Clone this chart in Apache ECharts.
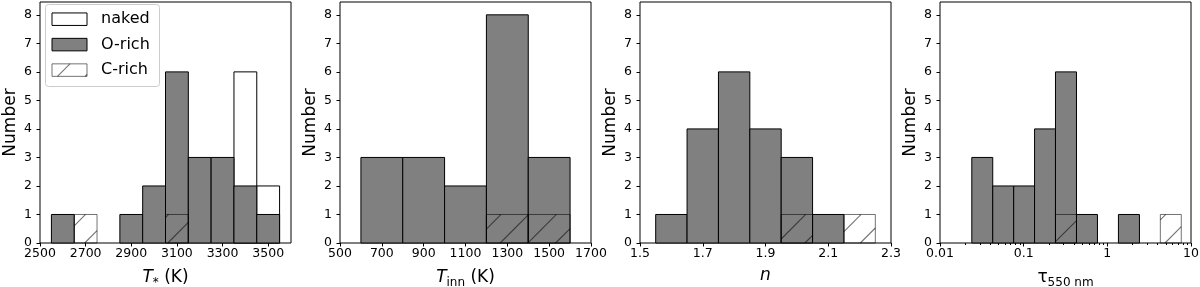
<!DOCTYPE html>
<html><head><meta charset="utf-8">
<script src="https://cdn.jsdelivr.net/npm/echarts@6/dist/echarts.min.js"></script>
<style>html,body{margin:0;padding:0;background:#fff}#c{width:1200px;height:287px}</style>
</head><body><div id="c"></div>
<script>
// ---- data ----
var countTicks = [0, 1, 2, 3, 4, 5, 6, 7, 8];

var tstarEdges = [2550, 2650, 2750, 2850, 2950, 3050, 3150, 3250, 3350, 3450, 3550];
var tstarNaked = [0, 0, 0, 0, 0, 0, 0, 0, 6, 2];
var tstarORich = [1, 0, 0, 1, 2, 6, 3, 3, 2, 1];
var tstarCRich = [0, 1, 0, 0, 0, 1, 0, 0, 0, 0];
var tstarTicks = [2500, 2700, 2900, 3100, 3300, 3500];

var tinnEdges = [600, 800, 1000, 1200, 1400, 1600];
var tinnORich = [3, 3, 2, 8, 3];
var tinnCRich = [0, 0, 0, 1, 1];
var tinnTicks = [500, 700, 900, 1100, 1300, 1500, 1700];

var nEdges = [1.55, 1.65, 1.75, 1.85, 1.95, 2.05, 2.15, 2.25];
var nORich = [1, 4, 6, 4, 3, 1, 0];
var nCRich = [0, 0, 0, 0, 1, 0, 1];
var nTicks = [1.5, 1.7, 1.9, 2.1, 2.3];

var tauEdges = [0.024, 0.0427, 0.076, 0.135, 0.24, 0.428, 0.762, 1.357, 2.42, 4.3, 7.65];
var tauORich = [3, 2, 2, 4, 6, 1, 0, 1, 0, 0];
var tauCRich = [0, 0, 0, 0, 1, 0, 0, 0, 0, 1];
var tauMinorTicks = [0.02, 0.03, 0.04, 0.05, 0.06, 0.07, 0.08, 0.09,
                     0.2, 0.3, 0.4, 0.5, 0.6, 0.7, 0.8, 0.9,
                     2, 3, 4, 5, 6, 7, 8, 9];

var legendNames = ['naked', 'O-rich', 'C-rich'];

// ---- helpers ----
function bins(edges, counts) {
  var out = [];
  for (var i = 0; i < counts.length; i++) {
    if (counts[i] > 0) out.push([edges[i], edges[i + 1], counts[i]]);
  }
  return out;
}

var HATCH_P = 27.7, HATCH_C0 = 23;
var GRAY = '#808080';
var CR_EDGE = 'rgba(0,0,0,0.55)';
function hatchSegments(x0, y0, x1, y1) {
  var segs = [];
  var k0 = Math.ceil((x0 + y0 - HATCH_C0) / HATCH_P);
  var k1 = Math.floor((x1 + y1 - HATCH_C0) / HATCH_P);
  for (var k = k0; k <= k1; k++) {
    var c = HATCH_C0 + k * HATCH_P;
    var ya = Math.max(y0, c - x1), yb = Math.min(y1, c - x0);
    if (yb > ya) segs.push([c - ya, ya, c - yb, yb]);
  }
  return segs;
}

function makeRender(kind) {
  return function (params, api) {
    var p0 = api.coord([api.value(0), 0]);
    var p1 = api.coord([api.value(1), api.value(2)]);
    var x = Math.min(p0[0], p1[0]), w = Math.abs(p1[0] - p0[0]);
    var y = p1[1], h = p0[1] - p1[1];
    var children = [];
    if (kind === 'c') {
      var segs = hatchSegments(x, y, x + w, y + h);
      segs.forEach(function (s) {
        children.push({ type: 'line', shape: { x1: s[0], y1: s[1], x2: s[2], y2: s[3] },
          style: { stroke: CR_EDGE, lineWidth: 1.1 } });
      });
      children.push({ type: 'rect', shape: { x: x, y: y, width: w, height: h },
        style: { fill: 'none', stroke: CR_EDGE, lineWidth: 1 } });
    } else {
      children.push({ type: 'rect', shape: { x: x, y: y, width: w, height: h },
        style: { fill: kind === 'n' ? '#ffffff' : GRAY, stroke: '#000', lineWidth: 1 } });
    }
    return { type: 'group', children: children };
  };
}

var FONT = 'DejaVu Sans';
var gridLefts = [40, 340, 640, 940];
var grids = gridLefts.map(function (l) {
  return { left: l, top: 2, width: 251, height: 241, show: true,
    borderColor: '#000', borderWidth: 1, backgroundColor: 'transparent',
    containLabel: false, outerBoundsMode: 'none' };
});

function tickStyle(vals, len) {
  return { show: true, customValues: vals, length: len, inside: false,
    lineStyle: { color: '#000', width: 1 } };
}
var labelBase = { color: '#000', fontSize: 12.5, fontFamily: FONT };
function plain(v) { return String(v); }

var nameRich = {
  i: { fontStyle: 'italic', fontSize: 17, fontFamily: FONT, color: '#000' },
  r: { fontSize: 17, fontFamily: FONT, color: '#000' },
  s: { fontSize: 12, fontFamily: FONT, color: '#000', padding: [10, 0, 0, 0] }
};
function xName(gridIndex, type, min, max, ticks, name, fmt) {
  var ax = {
    type: type, gridIndex: gridIndex, min: min, max: max, position: 'bottom',
    axisLine: { show: false, onZero: false },
    splitLine: { show: false },
    name: name, nameLocation: 'middle', nameGap: 24,
    nameTextStyle: { fontSize: 17, fontFamily: FONT, color: '#000', rich: nameRich },
    axisLabel: Object.assign({ margin: 4, formatter: fmt || plain }, labelBase)
  };
  if (ticks) {
    ax.axisTick = tickStyle(ticks, 3.5);
    ax.axisLabel.customValues = ticks;
  } else {
    ax.axisTick = { show: true, length: 3.5, lineStyle: { color: '#000', width: 1 } };
  }
  return ax;
}

var xAxes = [
  xName(0, 'value', 2500, 3600, tstarTicks, '{i|T}{s|*}{r| (K)}'),
  xName(1, 'value', 500, 1700, tinnTicks, '{i|T}{s|inn}{r| (K)}'),
  xName(2, 'value', 1.5, 2.3, nTicks, '{i|n}', function (v) { return v.toFixed(1); }),
  xName(3, 'log', 0.01, 10, null, '{r|τ}{s|550 nm}', function (v) { return String(+v.toPrecision(3)); }),
  { // minor ticks of the log axis (log10 positions)
    type: 'value', gridIndex: 3, min: -2, max: 1, position: 'bottom',
    axisLine: { show: false, onZero: false }, splitLine: { show: false },
    axisLabel: { show: false },
    axisTick: tickStyle(tauMinorTicks.map(function (v) { return Math.log10(v); }), 2)
  }
];

var yAxes = gridLefts.map(function (l, i) {
  return {
    type: 'value', gridIndex: i, min: 0, max: 8.45,
    axisLine: { show: false, onZero: false }, splitLine: { show: false },
    axisTick: tickStyle(countTicks, 3.5),
    axisLabel: Object.assign({ margin: 8, customValues: countTicks, formatter: plain }, labelBase),
    name: 'Number', nameLocation: 'middle', nameRotate: 90, nameGap: 21,
    nameTextStyle: { fontSize: 17, fontFamily: FONT, color: '#000' }
  };
});

function histSeries(name, axisIdx, data, kind, z) {
  return {
    type: 'custom', name: name, xAxisIndex: axisIdx, yAxisIndex: axisIdx,
    renderItem: makeRender(kind), data: data, clip: false, z: z,
    encode: { x: [0, 1], y: 2 }, silent: true
  };
}

var series = [
  histSeries('naked', 0, bins(tstarEdges, tstarNaked), 'n', 2),
  histSeries('O-rich', 0, bins(tstarEdges, tstarORich), 'o', 3),
  histSeries('C-rich', 0, bins(tstarEdges, tstarCRich), 'c', 4),
  histSeries('O-rich', 1, bins(tinnEdges, tinnORich), 'o', 3),
  histSeries('C-rich', 1, bins(tinnEdges, tinnCRich), 'c', 4),
  histSeries('O-rich', 2, bins(nEdges, nORich), 'o', 3),
  histSeries('C-rich', 2, bins(nEdges, nCRich), 'c', 4),
  histSeries('O-rich', 3, bins(tauEdges, tauORich), 'o', 3),
  histSeries('C-rich', 3, bins(tauEdges, tauCRich), 'c', 4)
];

// legend drawn as graphic (frame, handles, labels)
var legY = [19.2, 44.6, 70.1];
var legendEls = [{
  type: 'rect', shape: { x: 45.5, y: 4.5, width: 114, height: 82, r: 3 },
  style: { fill: 'rgba(255,255,255,0.8)', stroke: '#cccccc', lineWidth: 1 }, z: 100
}];
var hx = 52, hw = 35, hh = 12.5;
legendNames.forEach(function (nm, i) {
  var yy = legY[i] - hh / 2;
  if (i === 2) {
    hatchSegments(hx, yy, hx + hw, yy + hh).forEach(function (s) {
      legendEls.push({ type: 'line', shape: { x1: s[0], y1: s[1], x2: s[2], y2: s[3] },
        style: { stroke: CR_EDGE, lineWidth: 1.1 }, z: 101 });
    });
  }
  legendEls.push({
    type: 'rect', shape: { x: hx, y: yy, width: hw, height: hh },
    style: { fill: i === 0 ? '#fff' : (i === 1 ? GRAY : 'none'), stroke: i === 2 ? CR_EDGE : '#000', lineWidth: 1 },
    z: 101
  });
  legendEls.push({
    type: 'text', x: 101, y: legY[i], z: 101,
    style: { text: nm, fontSize: 16, fontFamily: FONT, fill: '#000', verticalAlign: 'middle', align: 'left' }
  });
});

var chart = echarts.init(document.getElementById('c'), null, { renderer: 'canvas' });
chart.setOption({
  animation: false,
  backgroundColor: '#fff',
  textStyle: { fontFamily: FONT },
  grid: grids,
  xAxis: xAxes,
  yAxis: yAxes,
  series: series,
  graphic: legendEls
});
</script>
</body></html>
